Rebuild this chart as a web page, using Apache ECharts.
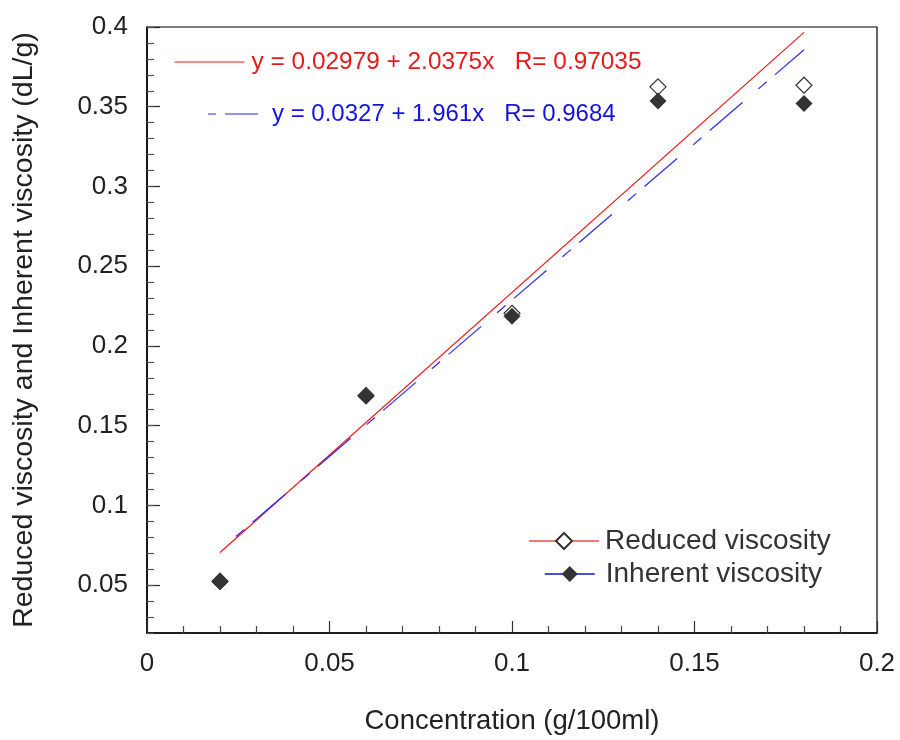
<!DOCTYPE html>
<html>
<head>
<meta charset="utf-8">
<script src="https://cdn.jsdelivr.net/npm/echarts@6/dist/echarts.min.js"></script>
<style>html,body{margin:0;padding:0;background:#fff}#c{width:900px;height:740px}</style>
</head>
<body>
<div id="c"></div>
<script>
// ---- data ----
var concentration = [0.02, 0.06, 0.10, 0.14, 0.18];
var reducedViscosity = [0.0525, 0.169, 0.2205, 0.3625, 0.3635];
var inherentViscosity = [0.0522, 0.1685, 0.2187, 0.3536, 0.352];
var reducedFitX = [0.02, 0.18];
var reducedFitY = [0.0705, 0.3966];
var inherentFitX = [0.02, 0.18];
var inherentFitY = [0.0719, 0.3857];
var reducedFitLabel = 'y = 0.02979 + 2.0375x   R= 0.97035';
var inherentFitLabel = 'y = 0.0327 + 1.961x   R= 0.9684';
var xTicks = [0, 0.05, 0.1, 0.15, 0.2];
var yMajorTicks = [0.05, 0.1, 0.15, 0.2, 0.25, 0.3, 0.35, 0.4];
var xName = 'Concentration (g/100ml)';
var yName = 'Reduced viscosity and Inherent viscosity (dL/g)';

function pairs(xs, ys) { return xs.map(function (x, i) { return [x, ys[i]]; }); }

var FONT = "'Liberation Sans', Arial, sans-serif";
var chart = echarts.init(document.getElementById('c'), null, {renderer: 'canvas'});

function fmt(v) { return String(Math.round(v * 1000) / 1000); }
var hiddenSymbol = {color: 'rgba(0,0,0,0)', borderColor: 'rgba(0,0,0,0)', borderWidth: 0, opacity: 0};

var option = {
  backgroundColor: '#fff',
  animation: false,
  grid: {left: 147, right: 23, top: 27, bottom: 107, show: true, borderColor: '#000', borderWidth: 1.2, containLabel: false},
  xAxis: {
    type: 'value', min: 0, max: 0.2, interval: 0.05,
    name: xName, nameLocation: 'middle', nameGap: 74,
    nameTextStyle: {fontFamily: FONT, fontSize: 27.5, color: '#222'},
    axisLine: {show: true, lineStyle: {color: '#000', width: 1.5}},
    axisTick: {show: true, inside: true, length: 12, lineStyle: {color: '#333', width: 1.2}},
    minorTick: {show: true, splitNumber: 5, length: 7, lineStyle: {color: '#444', width: 1.2}},
    splitLine: {show: false},
    axisLabel: {margin: 18, fontFamily: FONT, fontSize: 26, color: '#222', formatter: function (v) { return fmt(v); }}
  },
  yAxis: [{
    type: 'value', min: 0.02, max: 0.4,
    name: yName, nameLocation: 'middle', nameGap: 108,
    nameTextStyle: {fontFamily: FONT, fontSize: 28.5, color: '#222'},
    axisLine: {show: true, lineStyle: {color: '#000', width: 1.5}},
    axisTick: {show: true, inside: true, length: 13, customValues: yMajorTicks, lineStyle: {color: '#222', width: 1.2}},
    splitLine: {show: false},
    axisLabel: {margin: 19, customValues: yMajorTicks, fontFamily: FONT, fontSize: 26, color: '#222', formatter: function (v) { return fmt(v); }}
  }, {
    type: 'value', min: 0.02, max: 0.4, interval: 0.01, position: 'left', offset: 0,
    axisLine: {show: false},
    axisTick: {show: true, inside: true, length: 7, lineStyle: {color: '#555', width: 1.2}},
    axisLabel: {show: false},
    splitLine: {show: false}
  }],
  legend: [
    {left: 174, top: 50, padding: 0, selectedMode: false, itemWidth: 70, itemHeight: 14, itemGap: 0,
     data: [{name: reducedFitLabel, itemStyle: hiddenSymbol, lineStyle: {color: '#f01818', width: 1.2, type: 'solid'}}],
     textStyle: {fontFamily: FONT, fontSize: 24.4, color: '#e51a1a', padding: [0, 0, 0, 2]}},
    {left: 208, top: 102, padding: 0, selectedMode: false, itemWidth: 50, itemHeight: 14, itemGap: 0,
     data: [{name: inherentFitLabel, icon: 'path://M0,0h8v1.2h-8z M17,0h33v1.2h-33z', itemStyle: {color: '#2a2af0', borderWidth: 0}}],
     textStyle: {fontFamily: FONT, fontSize: 24, color: '#1414dc', padding: [0, 0, 0, 9]}},
    {left: 528, top: 527, padding: 0, selectedMode: false, itemWidth: 70, itemHeight: 20, itemGap: 0,
     data: [{name: 'Reduced viscosity', lineStyle: {color: '#f07878', width: 2, opacity: 1}}],
     textStyle: {fontFamily: FONT, fontSize: 28, color: '#333', padding: [0, 0, 0, 1]}},
    {left: 544, top: 560, padding: 0, selectedMode: false, itemWidth: 50, itemHeight: 20, itemGap: 0,
     data: [{name: 'Inherent viscosity', lineStyle: {color: '#1010c8', width: 1.5, opacity: 1}}],
     textStyle: {fontFamily: FONT, fontSize: 28, color: '#333', padding: [0, 0, 0, 6]}}
  ],
  series: [
    {name: reducedFitLabel, type: 'line', data: pairs(reducedFitX, reducedFitY), symbol: 'none',
     lineStyle: {color: '#f01818', width: 1.2}, itemStyle: {color: '#f01818'}, z: 2, silent: true},
    {name: inherentFitLabel, type: 'line', data: pairs(inherentFitX, inherentFitY), symbol: 'none',
     lineStyle: {color: '#2a2af0', width: 1.2, type: [43, 21, 11, 11], dashOffset: 43}, itemStyle: {color: '#2a2af0'}, z: 2, silent: true},
    {name: 'Reduced viscosity', type: 'line', data: pairs(concentration, reducedViscosity),
     symbol: 'diamond', symbolSize: 16, showSymbol: true,
     lineStyle: {opacity: 0, width: 0},
     itemStyle: {color: '#fff', borderColor: '#333', borderWidth: 1.2}, z: 3},
    {name: 'Inherent viscosity', type: 'line', data: pairs(concentration, inherentViscosity),
     symbol: 'diamond', symbolSize: 17, showSymbol: true,
     lineStyle: {opacity: 0, width: 0},
     itemStyle: {color: '#333', borderColor: '#333', borderWidth: 0}, z: 4}
  ]
};
chart.setOption(option);
</script>
</body>
</html>
